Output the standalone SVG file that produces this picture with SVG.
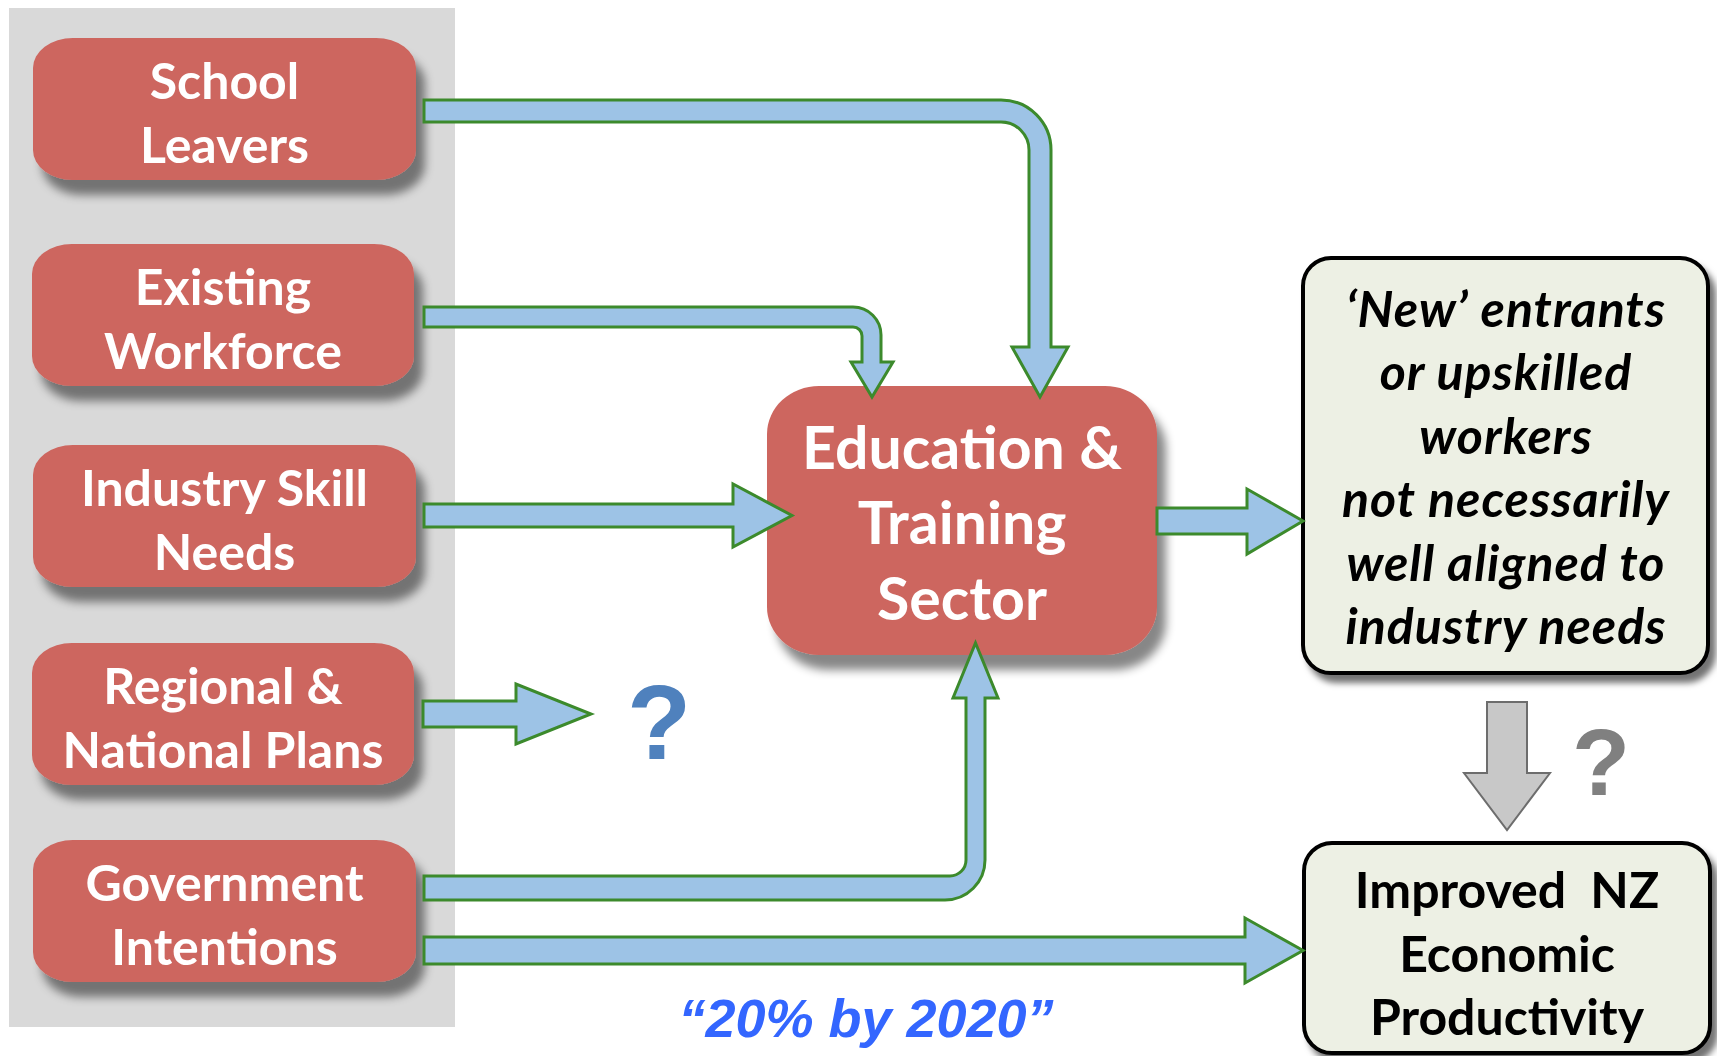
<svg xmlns="http://www.w3.org/2000/svg" width="1717" height="1056" viewBox="0 0 1717 1056">
<defs>
<filter id="shRed" x="-10%" y="-15%" width="130%" height="150%">
<feDropShadow dx="9" dy="15" stdDeviation="5" flood-color="#000" flood-opacity="0.47"/>
</filter>
<filter id="shPale" x="-10%" y="-10%" width="130%" height="130%">
<feDropShadow dx="6" dy="8" stdDeviation="3" flood-color="#000" flood-opacity="0.55"/>
</filter>
</defs>
<style>
.red{fill:#cd665f}
.rt{font-family:Lato,"Open Sans",sans-serif;font-weight:bold;fill:#fff;text-anchor:middle;font-size:50px}
.et{font-size:59px}
.flow{fill:#9dc3e6;stroke:#3c8a2c;stroke-width:3;stroke-linejoin:miter}
.pale{fill:#edf0e4;stroke:#000;stroke-width:4}
.bt{font-family:Lato,"Open Sans",sans-serif;font-weight:bold;fill:#000;text-anchor:middle;font-size:50px}
.it{font-style:italic;font-size:50px;letter-spacing:1px}
</style>
<rect x="9" y="8" width="446" height="1019" fill="#d9d9d9"/>

<g id="school-leavers">
<rect class="red" x="33" y="38" width="383" height="142" rx="40" ry="30" filter="url(#shRed)"/>
<text class="rt" x="224.5" y="99">School</text>
<text class="rt" x="224.5" y="163">Leavers</text>
</g>
<g id="existing-workforce">
<rect class="red" x="32" y="244" width="382" height="142" rx="40" ry="30" filter="url(#shRed)"/>
<text class="rt" x="223" y="305">Existing</text>
<text class="rt" x="223" y="369">Workforce</text>
</g>
<g id="industry-skill-needs">
<rect class="red" x="33" y="445" width="383" height="142" rx="40" ry="30" filter="url(#shRed)"/>
<text class="rt" x="224.5" y="506">Industry Skill</text>
<text class="rt" x="224.5" y="570">Needs</text>
</g>
<g id="regional-national-plans">
<rect class="red" x="32" y="643" width="382" height="142" rx="40" ry="30" filter="url(#shRed)"/>
<text class="rt" x="223" y="704">Regional &amp;</text>
<text class="rt" x="223" y="768">National Plans</text>
</g>
<g id="government-intentions">
<rect class="red" x="33" y="840" width="383" height="142" rx="40" ry="30" filter="url(#shRed)"/>
<text class="rt" x="224.5" y="901">Government</text>
<text class="rt" x="224.5" y="965">Intentions</text>
</g>

<g id="education-training-sector">
<rect class="red" x="767" y="386" width="390" height="269" rx="52" ry="48" filter="url(#shRed)"/>
<text class="rt et" x="962" y="469">Education &amp;</text>
<text class="rt et" x="962" y="544">Training</text>
<text class="rt et" x="962" y="620">Sector</text>
</g>

<g id="new-entrants">
<rect class="pale" x="1303" y="258" width="405" height="415" rx="28" filter="url(#shPale)"/>
<text class="bt it" x="1506" y="327">‘New’ entrants</text>
<text class="bt it" x="1506" y="390">or upskilled</text>
<text class="bt it" x="1506" y="454">workers</text>
<text class="bt it" x="1506" y="517">not necessarily</text>
<text class="bt it" x="1506" y="581">well aligned to</text>
<text class="bt it" x="1506" y="644">industry needs</text>
</g>

<g id="improved-productivity">
<rect class="pale" x="1304" y="843" width="406" height="210" rx="28" filter="url(#shPale)"/>
<text class="bt" x="1507" y="908" xml:space="preserve">Improved  NZ</text>
<text class="bt" x="1507" y="972">Economic</text>
<text class="bt" x="1507" y="1035">Productivity</text>
</g>

<g id="connectors">
<path class="flow" d="M424,100 H1001 A50,50 0 0 1 1051,150 V347 H1068 L1040,397 L1012,347 H1029 V150 A28,28 0 0 0 1001,122 H424 Z"/>
<path class="flow" d="M424,307 H853 A28,28 0 0 1 881,335 V362 H893 L872,397 L851,362 H862 V336 A9,9 0 0 0 853,327 H424 Z"/>
<path class="flow" d="M424,504 H733 V484 L792,515.5 L733,547 V527 H424 Z"/>
<path class="flow" d="M423,701 H516 V684 L591,714 L516,744 V727 H423 Z"/>
<path class="flow" d="M1157,508 H1247 V489 L1303,521 L1247,554 V534 H1157 Z"/>
<path class="flow" d="M424,876 H950 A16,16 0 0 0 966,860 V698 H953 L975.5,643 L998,698 H985 V860 A40,40 0 0 1 945,900 H424 Z"/>
<path class="flow" d="M424,937 H1245 V918 L1303,950.5 L1245,983 V964 H424 Z"/>
<path d="M1487,702 H1527 V773 H1550 L1507,830 L1464,773 H1487 Z" fill="#c8c8c8" stroke="#6d6d6d" stroke-width="2"/>
</g>

<text x="659" y="759" font-family="Liberation Sans, Arial, sans-serif" font-weight="bold" font-size="105" fill="#4f81bd" text-anchor="middle">?</text>
<text x="1601" y="795" font-family="Liberation Sans, Arial, sans-serif" font-weight="bold" font-size="95" fill="#808080" text-anchor="middle">?</text>
<text x="866" y="1037" font-family="Liberation Sans, Arial, sans-serif" font-weight="bold" font-style="italic" font-size="54" fill="#3366ff" text-anchor="middle">“20% by 2020”</text>
</svg>
